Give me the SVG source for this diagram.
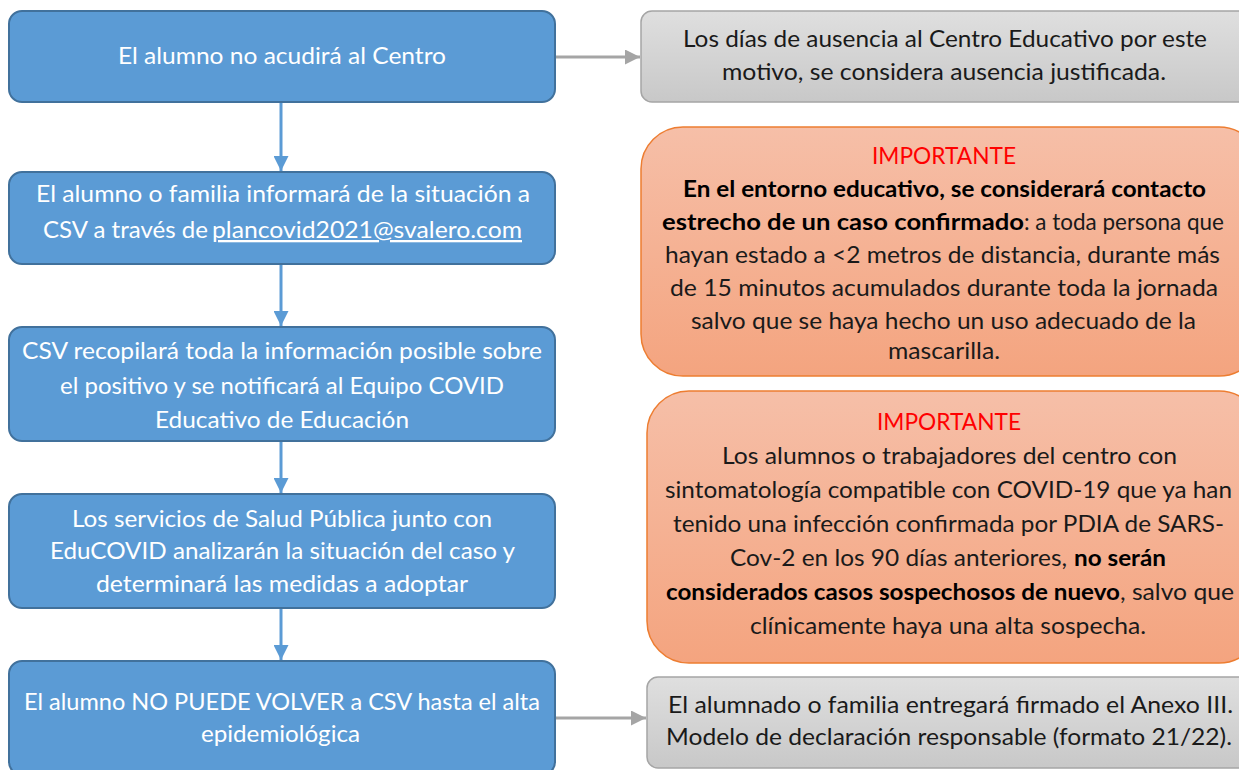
<svg xmlns="http://www.w3.org/2000/svg" width="1239" height="770" viewBox="0 0 1239 770">
<style>
.blue{fill:#5B9BD5;stroke:#41719C;stroke-width:2}
.grey{fill:url(#gGrey);stroke:#A5A5A5;stroke-width:1.5}
.orange{fill:url(#gOrange);stroke:#ED7D31;stroke-width:1.5}
text{font-family:Lato,"Liberation Sans",sans-serif;font-size:23px}
.w{fill:#FFFFFF}
.k{fill:#1A1A1A}
.b{font-weight:bold;fill:#000}
.r{fill:#FF0000}
.cb{stroke:#5B9BD5;stroke-width:3;fill:none}
.cg{stroke:#A5A5A5;stroke-width:3;fill:none}
</style>
<defs>
<linearGradient id="gGrey" x1="0" y1="0" x2="0" y2="1"><stop offset="0" stop-color="#DFDFDF"/><stop offset="1" stop-color="#C8C8C8"/></linearGradient>
<linearGradient id="gOrange" x1="0" y1="0" x2="0" y2="1"><stop offset="0" stop-color="#F6BFA8"/><stop offset="1" stop-color="#F4A47F"/></linearGradient>
<marker id="ab" markerWidth="5" markerHeight="5" refX="5" refY="2.5" orient="auto" markerUnits="strokeWidth"><path d="M0,0 L5,2.5 L0,5 Z" fill="#5B9BD5"/></marker>
<marker id="ag" markerWidth="5" markerHeight="5" refX="5" refY="2.5" orient="auto" markerUnits="strokeWidth"><path d="M0,0 L5,2.5 L0,5 Z" fill="#A5A5A5"/></marker>
</defs>

<g id="connectors">
<line class="cb" x1="281" y1="103" x2="281" y2="171" marker-end="url(#ab)"/>
<line class="cb" x1="281" y1="265" x2="281" y2="326" marker-end="url(#ab)"/>
<line class="cb" x1="281" y1="442" x2="281" y2="493" marker-end="url(#ab)"/>
<line class="cb" x1="281" y1="609" x2="281" y2="660" marker-end="url(#ab)"/>
<line class="cg" x1="556" y1="57" x2="640" y2="57" marker-end="url(#ag)"/>
<line class="cg" x1="556" y1="718" x2="646" y2="718" marker-end="url(#ag)"/>
</g>

<g id="n1">
<rect class="blue" x="9" y="11" width="546" height="91" rx="13"/>
<text class="w" x="118" y="64" textLength="328" lengthAdjust="spacingAndGlyphs">El alumno no acudirá al Centro</text>
</g>
<g id="n2">
<rect class="blue" x="9" y="172" width="546" height="92" rx="13"/>
<text class="w" x="36" y="202" textLength="494" lengthAdjust="spacingAndGlyphs">El alumno o familia informará de la situación a</text>
<text class="w" x="43" y="238" textLength="165" lengthAdjust="spacingAndGlyphs">CSV a través de</text>
<text class="w" x="212" y="238" textLength="310" lengthAdjust="spacingAndGlyphs" text-decoration="underline">plancovid2021@svalero.com</text>
</g>
<g id="n3">
<rect class="blue" x="9" y="327" width="546" height="114" rx="13"/>
<text class="w" x="22" y="359" textLength="520" lengthAdjust="spacingAndGlyphs">CSV recopilará toda la información posible sobre</text>
<text class="w" x="60" y="394" textLength="444" lengthAdjust="spacingAndGlyphs">el positivo y se notificará al Equipo COVID</text>
<text class="w" x="155" y="428" textLength="254" lengthAdjust="spacingAndGlyphs">Educativo de Educación</text>
</g>
<g id="n4">
<rect class="blue" x="9" y="494" width="546" height="114" rx="13"/>
<text class="w" x="72" y="527" textLength="420" lengthAdjust="spacingAndGlyphs">Los servicios de Salud Pública junto con</text>
<text class="w" x="50" y="559" textLength="465" lengthAdjust="spacingAndGlyphs">EduCOVID analizarán la situación del caso y</text>
<text class="w" x="96" y="592" textLength="372" lengthAdjust="spacingAndGlyphs">determinará las medidas a adoptar</text>
</g>
<g id="n5">
<rect class="blue" x="9" y="661" width="546" height="114" rx="13"/>
<text class="w" x="24" y="710" textLength="516" lengthAdjust="spacingAndGlyphs">El alumno NO PUEDE VOLVER a CSV hasta el alta</text>
<text class="w" x="201" y="742" textLength="159" lengthAdjust="spacingAndGlyphs">epidemiológica</text>
</g>

<g id="g1">
<rect class="grey" x="641" y="11" width="610" height="91" rx="11"/>
<text class="k" x="683" y="47" textLength="524" lengthAdjust="spacingAndGlyphs">Los días de ausencia al Centro Educativo por este</text>
<text class="k" x="722" y="80" textLength="444" lengthAdjust="spacingAndGlyphs">motivo, se considera ausencia justificada.</text>
</g>

<g id="o1">
<rect class="orange" x="641" y="127" width="620" height="249" rx="42"/>
<text class="r" x="872" y="164" textLength="144" lengthAdjust="spacingAndGlyphs">IMPORTANTE</text>
<text class="b" x="683" y="197" textLength="523" lengthAdjust="spacingAndGlyphs">En el entorno educativo, se considerará contacto</text>
<text class="b" x="662" y="230" textLength="362" lengthAdjust="spacingAndGlyphs">estrecho de un caso confirmado</text>
<text class="k" x="1024" y="230" textLength="200" lengthAdjust="spacingAndGlyphs">: a toda persona que</text>
<text class="k" x="665" y="263" textLength="555" lengthAdjust="spacingAndGlyphs">hayan estado a &lt;2 metros de distancia, durante más</text>
<text class="k" x="670" y="296" textLength="548" lengthAdjust="spacingAndGlyphs">de 15 minutos acumulados durante toda la jornada</text>
<text class="k" x="691" y="329" textLength="505" lengthAdjust="spacingAndGlyphs">salvo que se haya hecho un uso adecuado de la</text>
<text class="k" x="888" y="359" textLength="112" lengthAdjust="spacingAndGlyphs">mascarilla.</text>
</g>

<g id="o2">
<rect class="orange" x="647" y="391" width="614" height="272" rx="42"/>
<text class="r" x="877" y="430" textLength="144" lengthAdjust="spacingAndGlyphs">IMPORTANTE</text>
<text class="k" x="722" y="464" textLength="455" lengthAdjust="spacingAndGlyphs">Los alumnos o trabajadores del centro con</text>
<text class="k" x="665" y="498" textLength="567" lengthAdjust="spacingAndGlyphs">sintomatología compatible con COVID-19 que ya han</text>
<text class="k" x="673" y="532" textLength="551" lengthAdjust="spacingAndGlyphs">tenido una infección confirmada por PDIA de SARS-</text>
<text class="k" x="730" y="566" textLength="337" lengthAdjust="spacingAndGlyphs">Cov-2 en los 90 días anteriores,</text>
<text class="b" x="1074" y="566" textLength="92" lengthAdjust="spacingAndGlyphs">no serán</text>
<text class="b" x="666" y="600" textLength="454" lengthAdjust="spacingAndGlyphs">considerados casos sospechosos de nuevo</text>
<text class="k" x="1120" y="600" textLength="114" lengthAdjust="spacingAndGlyphs">, salvo que</text>
<text class="k" x="750" y="634" textLength="396" lengthAdjust="spacingAndGlyphs">clínicamente haya una alta sospecha.</text>
</g>

<g id="g2">
<rect class="grey" x="647" y="677" width="610" height="91" rx="11"/>
<text class="k" x="668" y="713" textLength="565" lengthAdjust="spacingAndGlyphs">El alumnado o familia entregará firmado el Anexo III.</text>
<text class="k" x="666" y="745" textLength="566" lengthAdjust="spacingAndGlyphs">Modelo de declaración responsable (formato 21/22).</text>
</g>
</svg>
